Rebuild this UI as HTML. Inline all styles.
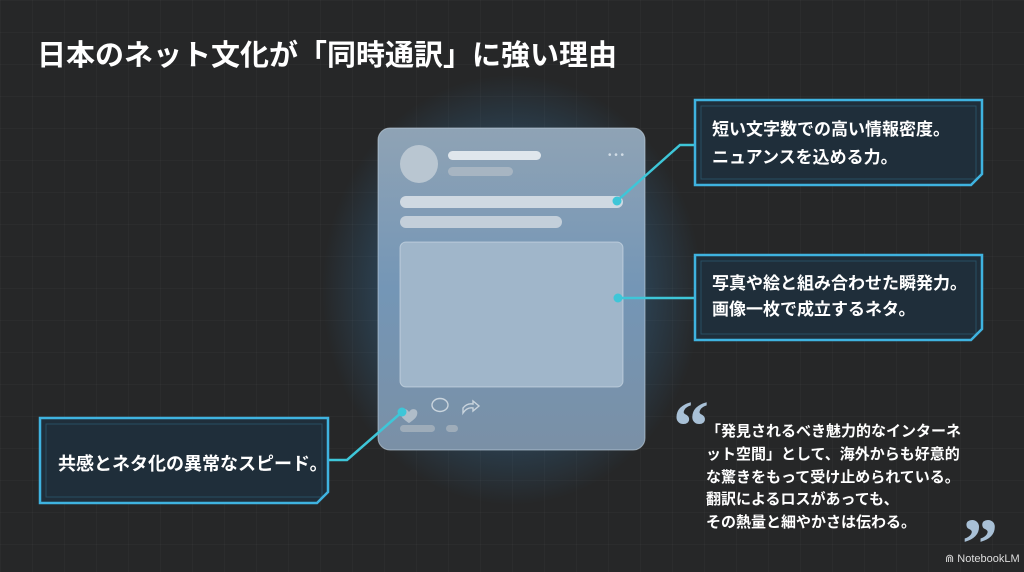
<!DOCTYPE html>
<html><head><meta charset="utf-8"><style>
html,body{margin:0;padding:0}
body{width:1024px;height:572px;background:#262728;overflow:hidden;position:relative;font-family:"Liberation Sans","Noto Sans CJK JP",sans-serif;color:#fff}
.grid{position:absolute;inset:0;background-image:linear-gradient(rgba(255,255,255,0.025) 1px,transparent 1px),linear-gradient(90deg,rgba(255,255,255,0.025) 1px,transparent 1px);background-size:32px 32px}
.t{position:absolute;font-weight:bold;white-space:nowrap}
</style></head><body>
<div class="grid"></div>
<svg width="1024" height="572" style="position:absolute;left:0;top:0">
<defs>
<radialGradient id="glow" cx="50%" cy="50%" r="50%">
<stop offset="0" stop-color="#3a8fd0" stop-opacity="0.7"/>
<stop offset="0.6" stop-color="#3a8fd0" stop-opacity="0.3"/>
<stop offset="1" stop-color="#3a8fd0" stop-opacity="0"/>
</radialGradient>
<linearGradient id="card" x1="0" y1="0" x2="0" y2="1">
<stop offset="0" stop-color="#8fa3b5"/>
<stop offset="0.5" stop-color="#7496b6"/>
<stop offset="1" stop-color="#7a90a6"/>
</linearGradient>
</defs>
<ellipse cx="512" cy="290" rx="190" ry="215" fill="url(#glow)"/>
<rect x="378" y="128" width="267" height="322" rx="12" fill="url(#card)" stroke="#c7d7e4" stroke-opacity="0.6"/>
<circle cx="419" cy="164" r="19" fill="#b9c6d1"/>
<rect x="448" y="151" width="93" height="9" rx="4.5" fill="#dfe6ec"/>
<rect x="448" y="167" width="65" height="9" rx="4.5" fill="#a7b5c2"/>
<text x="608" y="158" font-size="10" fill="#d0dbe4">• • •</text>
<rect x="400" y="196" width="223" height="12" rx="6" fill="#cfd9e2"/>
<rect x="400" y="216" width="162" height="12" rx="6" fill="#c3cfda"/>
<rect x="400" y="242" width="223" height="145" rx="6" fill="#a0b6ca" stroke="#d3e0ea" stroke-opacity="0.6"/>
<path d="M409 412 c-3-5-10-3-8 3 c1 4 8 8 8 8 c0 0 7-4 8-8 c2-6-5-8-8-3z" fill="#b0bdc9"/>
<ellipse cx="440" cy="405" rx="8" ry="6.5" fill="none" stroke="#c9d4dd" stroke-width="1.4"/>
<path d="M463 413 l0-5 q4-5 10-4 l0-3 l6 5 l-6 5 l0-3 q-6-1-10 5z" fill="none" stroke="#c9d4dd" stroke-width="1.4"/>
<rect x="400" y="425" width="35" height="7" rx="3.5" fill="#9eacb9"/>
<rect x="446" y="425" width="12" height="7" rx="3.5" fill="#9eacb9"/>
<g stroke="#3ec6d8" stroke-width="2.5" fill="none">
<polyline points="695,145 680,145 617,201"/>
<polyline points="695,298 618,298"/>
<polyline points="328,460 347,460 402,412"/>
</g>
<g fill="#3ec6d8"><circle cx="617" cy="201" r="4.5"/><circle cx="618" cy="298" r="4.5"/><circle cx="402" cy="412" r="4.5"/></g>
<g fill="#1f2e3a" stroke="#3fb3e0" stroke-width="2.5">
<path d="M695,100 L982,100 L982,174 L971,185 L695,185 Z"/>
<path d="M695,255 L982,255 L982,329 L971,340 L695,340 Z"/>
<path d="M40,418 L328,418 L328,492 L317,503 L40,503 Z"/>
</g>
<g fill="none" stroke="#3fb3e0" stroke-opacity="0.25" stroke-width="1">
<rect x="701" y="106" width="275" height="73"/>
<rect x="701" y="261" width="275" height="73"/>
<rect x="46" y="424" width="276" height="73"/>
</g>
<text x="673" y="450" font-size="72" font-weight="bold" fill="#a8c0d6" font-family="Liberation Serif,serif">“</text>
<text x="962" y="568" font-size="72" font-weight="bold" fill="#a8c0d6" font-family="Liberation Serif,serif">”</text>
</svg>
<div class="t" style="left:37px;top:32px;font-size:29px">日本のネット文化が「同時通訳」に強い理由</div>
<div class="t" style="left:712px;top:116px;font-size:17px;line-height:28px">短い文字数での高い情報密度。<br>ニュアンスを込める力。</div>
<div class="t" style="left:712px;top:271px;font-size:17px;line-height:26px">写真や絵と組み合わせた瞬発力。<br>画像一枚で成立するネタ。</div>
<div class="t" style="left:58px;top:450px;font-size:18px">共感とネタ化の異常なスピード。</div>
<div class="t" style="left:706px;top:421px;font-size:15px;line-height:22.8px">「発見されるべき魅力的なインターネ<br>ット空間」として、海外からも好意的<br>な驚きをもって受け止められている。<br>翻訳によるロスがあっても、<br>その熱量と細やかさは伝わる。</div>
<div class="t" style="left:945px;top:552px;font-size:11px;font-weight:normal;color:#ddd">⋒ NotebookLM</div>
</body></html>
